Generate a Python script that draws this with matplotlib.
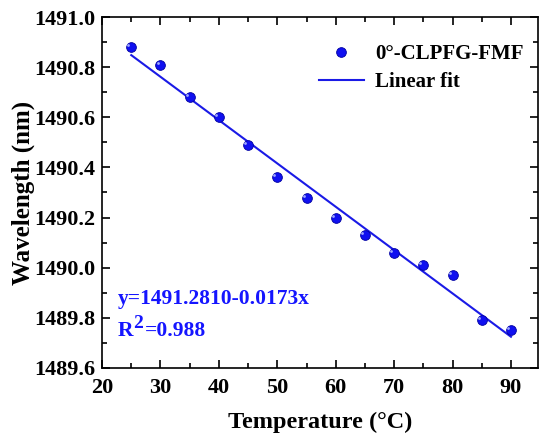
import numpy as np
import matplotlib.pyplot as plt

plt.rcParams['font.family'] = 'Liberation Serif'
plt.rcParams['font.weight'] = 'bold'

temp = np.array([25, 30, 35, 40, 45, 50, 55, 60, 65, 70, 75, 80, 85, 90])
wavelength = np.array([1490.88, 1490.81, 1490.68, 1490.60, 1490.49, 1490.36, 1490.28,
                       1490.20, 1490.13, 1490.06, 1490.01, 1489.97, 1489.79, 1489.75])
intercept = 1491.2810
slope = -0.0173

fig = plt.figure(figsize=(5.4, 4.41), dpi=100)
ax = fig.add_axes([0.189, 0.166, 0.807, 0.795])

ax.plot(temp, intercept + slope * temp, color="#1a1ae6", lw=1.5, label="Linear fit")
ax.plot(temp, wavelength, "o", color="#1010f0", markersize=7, markeredgecolor="#0000a0",
        markeredgewidth=0.6, label="0°-CLPFG-FMF", zorder=3)
# little highlight to mimic the shaded spheres
ax.plot(temp - 0.5, wavelength + 0.008, "o", color="#9fa8ff", markersize=2,
        markeredgewidth=0, zorder=4)

ax.set_xlim(20, 94.6)
ax.set_ylim(1489.6, 1491.0)
ax.set_xticks(np.arange(20, 91, 10))
ax.set_xticks(np.arange(25, 95, 5), minor=True)
ax.set_yticks(np.arange(1489.6, 1491.01, 0.2))
ax.set_yticks(np.arange(1489.7, 1491.0, 0.1), minor=True)
ax.yaxis.set_major_formatter(plt.FormatStrFormatter("%.1f"))
ax.tick_params(which="both", direction="in", top=True, right=True, labelsize=16, width=1.2)
ax.tick_params(which="major", length=6)
ax.tick_params(which="minor", length=3.5)
ax.tick_params(axis="x", pad=7)
ax.tick_params(axis="y", pad=5)
for s in ax.spines.values():
    s.set_linewidth(1.2)

ax.set_xlabel("Temperature (°C)", fontsize=17.5, fontweight="bold", labelpad=10)
ax.set_ylabel("Wavelength (nm)", fontsize=18, fontweight="bold", labelpad=-1)

h, l = ax.get_legend_handles_labels()
ax.legend([h[1], h[0]], [l[1], l[0]], loc="upper right", bbox_to_anchor=(1.0, 0.965),
          frameon=False, fontsize=15, handlelength=2.2, handletextpad=0.5,
          labelspacing=0.4, borderaxespad=0.3)

blue = "#1515ff"
ax.text(0.035, 0.195, "y=1491.2810-0.0173x", transform=ax.transAxes, color=blue,
        fontsize=15.5, fontweight="bold", va="center")
r = ax.text(0.035, 0.105, "R", transform=ax.transAxes, color=blue,
            fontsize=15.5, fontweight="bold", va="center")
sup = ax.annotate("2", xy=(1, 0.45), xycoords=r, color=blue, fontsize=14,
                  fontweight="bold", va="bottom", ha="left")
ax.annotate("=0.988", xy=(1, 0), xycoords=r, xytext=(9, 0), textcoords="offset points",
            color=blue, fontsize=15.5, fontweight="bold", va="bottom", ha="left")

fig.savefig("out.png", dpi=100)
